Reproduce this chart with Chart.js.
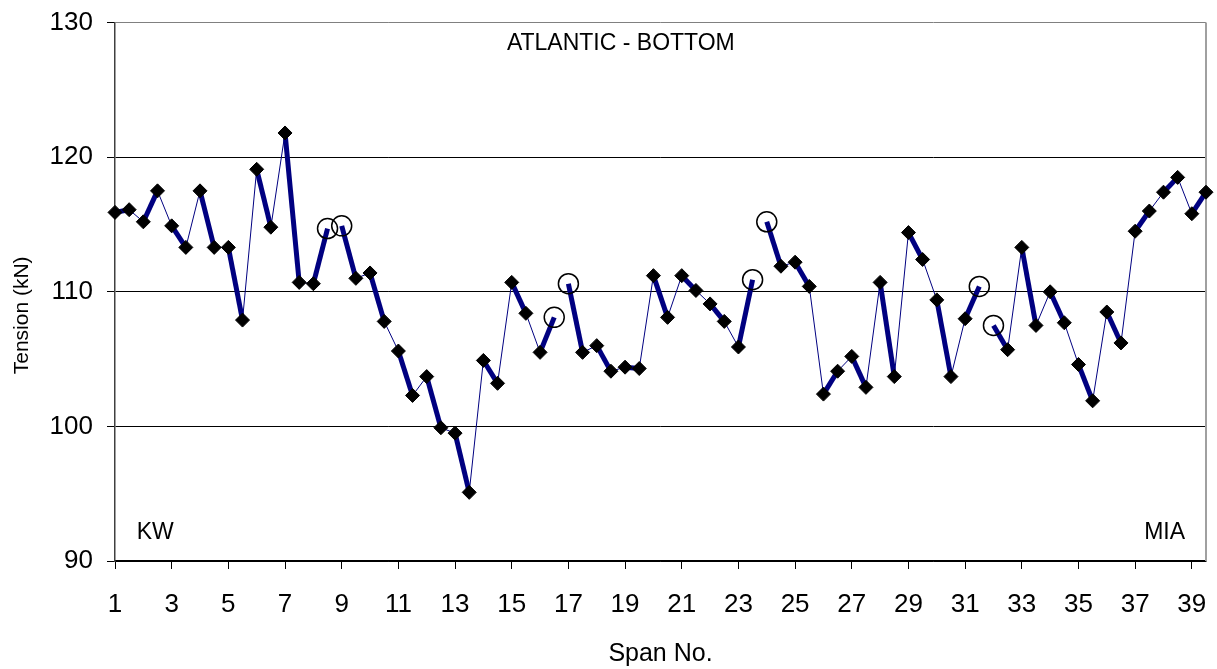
<!DOCTYPE html>
<html>
<head>
<meta charset="utf-8">
<title>Atlantic - Bottom</title>
<script src="https://cdn.jsdelivr.net/npm/chart.js@4.4.1/dist/chart.umd.min.js"></script>
<style>
  body { margin: 0; background: #fff; }
  #grafico { display: block; }
</style>
</head>
<body>
<canvas id="grafico" width="1217" height="669"></canvas>
<script>
// Posição ao longo do vão (início e fim de cada vão)
const spanNo = [
  1, 1.5, 2, 2.5, 3, 3.5, 4, 4.5, 5, 5.5,
  6, 6.5, 7, 7.5, 8, 8.5, 9, 9.5, 10, 10.5,
  11, 11.5, 12, 12.5, 13, 13.5, 14, 14.5, 15, 15.5,
  16, 16.5, 17, 17.5, 18, 18.5, 19, 19.5, 20, 20.5,
  21, 21.5, 22, 22.5, 23, 23.5, 24, 24.5, 25, 25.5,
  26, 26.5, 27, 27.5, 28, 28.5, 29, 29.5, 30, 30.5,
  31, 31.5, 32, 32.5, 33, 33.5, 34, 34.5, 35, 35.5,
  36, 36.5, 37, 37.5, 38, 38.5, 39, 39.5
];

// Tensão (kN)
const tension = [
  115.9, 116.1, 115.2, 117.5, 114.9, 113.3, 117.5, 113.3, 113.3, 107.9,
  119.1, 114.8, 121.8, 110.7, 110.6, 114.7, 114.9, 111.0, 111.4, 107.8,
  105.6, 102.3, 103.7, 99.9, 99.5, 95.1, 104.9, 103.2, 110.7, 108.4,
  105.5, 108.1, 110.6, 105.5, 106.0, 104.1, 104.4, 104.3, 111.2, 108.1,
  111.2, 110.1, 109.1, 107.8, 105.9, 110.9, 115.2, 111.9, 112.2, 110.4,
  102.4, 104.1, 105.2, 102.9, 110.7, 103.7, 114.4, 112.4, 109.4, 103.7,
  108.0, 110.4, 107.5, 105.7, 113.3, 107.5, 110.0, 107.7, 104.6, 101.9,
  108.5, 106.2, 114.5, 116.0, 117.4, 118.5, 115.8, 117.4
];

// Pontos marcados com círculo (sem losango)
const circled = [8.5, 9, 16.5, 17, 23.5, 24, 31.5, 32];

const xTicks = [1, 3, 5, 7, 9, 11, 13, 15, 17, 19, 21, 23, 25, 27, 29, 31, 33, 35, 37, 39];
const yTicks = [90, 100, 110, 120, 130];

const fonte = "'Liberation Sans', Arial, sans-serif";
const azul = "#000080";

const isCircled = (v) => circled.includes(v);

// Textos dentro do gráfico e título do eixo Y
const textos = {
  id: "textos",
  beforeDatasetsDraw(chart) {
    const { ctx, chartArea, scales: { x, y } } = chart;
    ctx.save();
    ctx.strokeStyle = "#a0a0a0";
    ctx.lineWidth = 2;
    ctx.beginPath();
    ctx.moveTo(chartArea.right, chartArea.top);
    ctx.lineTo(chartArea.right, chartArea.bottom);
    ctx.stroke();

    ctx.fillStyle = "#000";
    ctx.textAlign = "center";
    ctx.textBaseline = "middle";
    ctx.font = "23px " + fonte;
    ctx.fillText("ATLANTIC - BOTTOM", x.getPixelForValue(18.85), y.getPixelForValue(128.45));
    ctx.fillText("KW", x.getPixelForValue(2.42), y.getPixelForValue(92.1));
    ctx.fillText("MIA", x.getPixelForValue(38.04), y.getPixelForValue(92.1));

    ctx.translate(22, y.getPixelForValue(108.25));
    ctx.rotate(-Math.PI / 2);
    ctx.font = "21px " + fonte;
    ctx.fillText("Tension (kN)", 0, 0);
    ctx.restore();
  }
};

const ctx = document.getElementById("grafico").getContext("2d");
new Chart(ctx, {
  type: "line",
  data: {
    datasets: [{
      data: spanNo.map((s, i) => ({ x: s, y: tension[i] })),
      borderColor: azul,
      borderWidth: 1,
      clip: false,
      segment: {
        // vão: traço grosso; ligação entre vãos: traço fino
        borderWidth: (c) => Number.isInteger(c.p0.parsed.x) ? 5 : 1,
        borderColor: (c) => (isCircled(c.p0.parsed.x) && isCircled(c.p1.parsed.x)) ? "rgba(0,0,0,0)" : azul
      },
      pointStyle: (c) => (c.raw && isCircled(c.raw.x)) ? "circle" : "rectRot",
      pointRadius: (c) => (c.raw && isCircled(c.raw.x)) ? 10 : 7,
      pointBackgroundColor: (c) => (c.raw && isCircled(c.raw.x)) ? "rgba(0,0,0,0)" : "#000",
      pointBorderColor: "#000",
      pointBorderWidth: (c) => (c.raw && isCircled(c.raw.x)) ? 1.5 : 1
    }]
  },
  options: {
    responsive: false,
    animation: false,
    events: [],
    layout: { padding: { top: 22.6, right: 11, bottom: 0, left: 0 } },
    plugins: {
      legend: { display: false },
      tooltip: { enabled: false }
    },
    scales: {
      x: {
        type: "linear",
        min: 1,
        max: 39.5,
        afterBuildTicks: (s) => { s.ticks = xTicks.map((v) => ({ value: v })); },
        afterFit: (s) => { s.height = 108; s.paddingLeft = 0; s.paddingRight = 0; },
        ticks: {
          autoSkip: false,
          maxRotation: 0,
          padding: 20,
          color: "#000",
          font: { family: fonte, size: 26 }
        },
        grid: { drawOnChartArea: false, tickLength: 8, tickColor: "#000" },
        border: { color: "#000", width: 1.5 },
        title: {
          display: true,
          text: "Span No.",
          color: "#000",
          font: { family: fonte, size: 25 },
          padding: { top: 0, bottom: 0 }
        }
      },
      y: {
        min: 90,
        max: 130,
        afterBuildTicks: (s) => { s.ticks = yTicks.map((v) => ({ value: v })); },
        afterFit: (s) => { s.width = 115; s.paddingTop = 0; s.paddingBottom = 0; },
        ticks: {
          padding: 14,
          color: "#000",
          font: { family: fonte, size: 26 }
        },
        grid: {
          color: (c) => c.tick && c.tick.value === 130 ? "#808080" : "#000",
          tickColor: "#000",
          tickLength: 8,
          lineWidth: 1
        },
        border: { color: "#404040", width: 1.5 }
      }
    }
  },
  plugins: [textos]
});
</script>
</body>
</html>
